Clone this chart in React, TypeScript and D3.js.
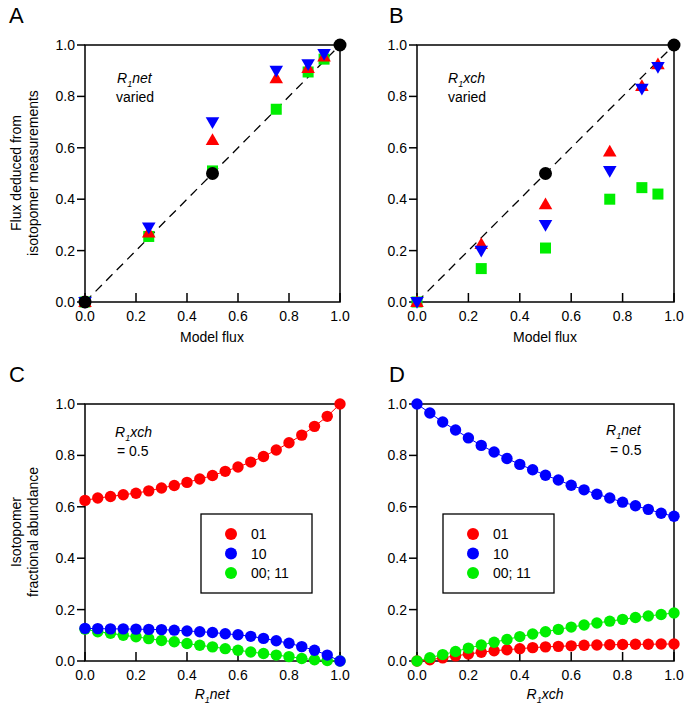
import React from "react";
import * as d3 from "d3";

// ---------- Data ----------
const fluxX = [0, 0.25, 0.5, 0.75, 0.875, 0.9375];
const blackX = [0, 0.5, 1];
const blackYA = [0, 0.5, 1];
const blackXB = [0.5, 1];
const blackYB = [0.5, 1];

const aRed = [0, 0.27, 0.63, 0.87, 0.91, 0.955];
const aBlue = [0, 0.29, 0.70, 0.90, 0.925, 0.965];
const aGreen = [0, 0.255, 0.51, 0.75, 0.895, 0.945];

const bRed = [0, 0.225, 0.38, 0.585, 0.84, 0.925];
const bBlue = [0, 0.20, 0.30, 0.51, 0.83, 0.915];
const bGreen = [0, 0.13, 0.21, 0.40, 0.445, 0.42];

const rX = [0, 0.05, 0.1, 0.15, 0.2, 0.25, 0.3, 0.35, 0.4, 0.45, 0.5, 0.55, 0.6, 0.65, 0.7, 0.75, 0.8, 0.85, 0.9, 0.95, 1.0];

const c01 = [0.625, 0.634, 0.640, 0.647, 0.653, 0.662, 0.673, 0.683, 0.695, 0.708, 0.722, 0.738, 0.755, 0.774, 0.796, 0.821, 0.849, 0.879, 0.913, 0.952, 1.0];
const c10 = [0.127, 0.126, 0.125, 0.125, 0.124, 0.123, 0.122, 0.120, 0.117, 0.114, 0.111, 0.106, 0.102, 0.096, 0.088, 0.079, 0.069, 0.056, 0.042, 0.023, 0.0];
const c00 = [0.124, 0.114, 0.108, 0.100, 0.094, 0.087, 0.080, 0.075, 0.068, 0.061, 0.055, 0.048, 0.042, 0.035, 0.029, 0.023, 0.017, 0.010, 0.005, 0.002, 0.0];

const d01 = [0, 0.005, 0.012, 0.020, 0.027, 0.034, 0.040, 0.044, 0.048, 0.052, 0.055, 0.057, 0.059, 0.061, 0.062, 0.063, 0.064, 0.065, 0.065, 0.066, 0.066];
const d10 = [1.0, 0.965, 0.930, 0.899, 0.868, 0.839, 0.813, 0.788, 0.765, 0.744, 0.723, 0.704, 0.684, 0.666, 0.649, 0.634, 0.618, 0.604, 0.590, 0.575, 0.563];
const d00 = [0, 0.013, 0.025, 0.037, 0.050, 0.062, 0.073, 0.084, 0.095, 0.105, 0.114, 0.123, 0.132, 0.140, 0.148, 0.155, 0.162, 0.169, 0.175, 0.181, 0.187];

const ticks = [0, 0.2, 0.4, 0.6, 0.8, 1.0];
const legendLabels = ["01", "10", "00; 11"];

const RED = "#ff0000";
const BLUE = "#0000ff";
const GREEN = "#00ee00";
const FONT = "'Liberation Sans', Arial, sans-serif";

type Box = { x0: number; x1: number; y0: number; y1: number };

function Axes({ box }: { box: Box }) {
  const x = d3.scaleLinear().domain([0, 1]).range([box.x0, box.x1]);
  const y = d3.scaleLinear().domain([0, 1]).range([box.y1, box.y0]);
  return (
    <g>
      <rect x={box.x0} y={box.y0} width={box.x1 - box.x0} height={box.y1 - box.y0} fill="none" stroke="#000" strokeWidth={1.5} />
      {ticks.map((t) => (
        <g key={"y" + t}>
          <line x1={box.x0 - 8} x2={box.x0} y1={y(t)} y2={y(t)} stroke="#000" strokeWidth={1.5} />
          <text x={box.x0 - 10} y={y(t) + 5} textAnchor="end" fontSize={14} fontFamily={FONT}>{t.toFixed(1)}</text>
        </g>
      ))}
      {ticks.map((t) => (
        <g key={"x" + t}>
          <line x1={x(t)} x2={x(t)} y1={box.y1} y2={box.y1 - 9} stroke="#000" strokeWidth={1.5} />
          <text x={x(t)} y={box.y1 + 19} textAnchor="middle" fontSize={14} fontFamily={FONT}>{t.toFixed(1)}</text>
        </g>
      ))}
    </g>
  );
}

function RSub({ x, y, sub, anchor = "start" }: { x: number; y: number; sub: string; anchor?: string }) {
  return (
    <text x={x} y={y} fontSize={14} fontFamily={FONT} fontStyle="italic" textAnchor={anchor as any}>
      R<tspan fontSize={9} dy={4}>1</tspan><tspan dy={-4}>{sub}</tspan>
    </text>
  );
}

function FluxPanel({ box, red, blue, green, bx, by }: { box: Box; red: number[]; blue: number[]; green: number[]; bx: number[]; by: number[] }) {
  const x = d3.scaleLinear().domain([0, 1]).range([box.x0, box.x1]);
  const y = d3.scaleLinear().domain([0, 1]).range([box.y1, box.y0]);
  const tri = d3.symbol().type(d3.symbolTriangle).size(80)() as string;
  return (
    <g>
      <line x1={x(0)} y1={y(0)} x2={x(1)} y2={y(1)} stroke="#000" strokeWidth={1.3} strokeDasharray="9,6" />
      <Axes box={box} />
      {fluxX.map((v, i) => (
        <rect key={"g" + i} x={x(v) - 5.5} y={y(green[i]) - 5.5} width={11} height={11} fill={GREEN} />
      ))}
      {fluxX.map((v, i) => (
        <path key={"r" + i} d={tri} transform={`translate(${x(v)},${y(red[i]) + 1})`} fill={RED} />
      ))}
      {fluxX.map((v, i) => (
        <path key={"b" + i} d={tri} transform={`translate(${x(v)},${y(blue[i]) - 1}) rotate(180)`} fill={BLUE} />
      ))}
      {bx.map((v, i) => (
        <circle key={"k" + i} cx={x(v)} cy={y(by[i])} r={6.5} fill="#000" />
      ))}
    </g>
  );
}

function CurvePanel({ box, s01, s10, s00 }: { box: Box; s01: number[]; s10: number[]; s00: number[] }) {
  const x = d3.scaleLinear().domain([0, 1]).range([box.x0, box.x1]);
  const y = d3.scaleLinear().domain([0, 1]).range([box.y1, box.y0]);
  const line = d3.line<number>().x((_, i) => x(rX[i])).y((d) => y(d));
  const series: [number[], string][] = [[s01, RED], [s00, GREEN], [s10, BLUE]];
  return (
    <g>
      <Axes box={box} />
      {series.map(([s, c], k) => (
        <g key={k}>
          <path d={line(s) as string} fill="none" stroke={c} strokeWidth={1} />
          {s.map((v, i) => (
            <circle key={i} cx={x(rX[i])} cy={y(v)} r={5.7} fill={c} />
          ))}
        </g>
      ))}
    </g>
  );
}

function Legend({ x0, y0 }: { x0: number; y0: number }) {
  const cols = [RED, BLUE, GREEN];
  return (
    <g>
      <rect x={x0} y={y0} width={111} height={79} fill="#fff" stroke="#000" strokeWidth={1.3} />
      {legendLabels.map((l, i) => (
        <g key={l}>
          <circle cx={x0 + 30} cy={y0 + 20 + i * 19.5} r={6} fill={cols[i]} />
          <text x={x0 + 50} y={y0 + 25 + i * 19.5} fontSize={14} fontFamily={FONT}>{l}</text>
        </g>
      ))}
    </g>
  );
}

export default function App() {
  const A: Box = { x0: 85, x1: 340, y0: 45, y1: 302 };
  const B: Box = { x0: 417, x1: 674, y0: 45, y1: 302 };
  const C: Box = { x0: 85, x1: 340, y0: 404, y1: 661 };
  const D: Box = { x0: 417, x1: 674, y0: 404, y1: 661 };
  return (
    <svg width={688} height={714} style={{ position: "absolute", left: 0, top: 0, background: "#fff" }}>
      <rect width={688} height={714} fill="#fff" />
      {/* Panel letters */}
      <text x={9} y={23} fontSize={22} fontFamily={FONT}>A</text>
      <text x={389} y={23} fontSize={22} fontFamily={FONT}>B</text>
      <text x={9} y={382} fontSize={22} fontFamily={FONT}>C</text>
      <text x={389} y={382} fontSize={22} fontFamily={FONT}>D</text>

      <FluxPanel box={A} red={aRed} blue={aBlue} green={aGreen} bx={blackX} by={blackYA} />
      <FluxPanel box={B} red={bRed} blue={bBlue} green={bGreen} bx={blackXB} by={blackYB} />
      <CurvePanel box={C} s01={c01} s10={c10} s00={c00} />
      <CurvePanel box={D} s01={d01} s10={d10} s00={d00} />
      <Legend x0={201} y0={514} />
      <Legend x0={443} y0={514} />

      {/* annotations */}
      <RSub x={117} y={83} sub="net" />
      <text x={116} y={102} fontSize={14} fontFamily={FONT}>varied</text>
      <RSub x={448} y={83} sub="xch" />
      <text x={448} y={102} fontSize={14} fontFamily={FONT}>varied</text>
      <RSub x={115} y={437} sub="xch" />
      <text x={117} y={456} fontSize={14} fontFamily={FONT}>= 0.5</text>
      <RSub x={606} y={435} sub="net" />
      <text x={610} y={455} fontSize={14} fontFamily={FONT}>= 0.5</text>

      {/* axis titles */}
      <text x={212} y={342} textAnchor="middle" fontSize={14} fontFamily={FONT}>Model flux</text>
      <text x={545} y={342} textAnchor="middle" fontSize={14} fontFamily={FONT}>Model flux</text>
      <RSub x={212} y={699} sub="net" anchor="middle" />
      <RSub x={545} y={699} sub="xch" anchor="middle" />
      <g transform="translate(21,173) rotate(-90)">
        <text textAnchor="middle" fontSize={14} fontFamily={FONT}>Flux deduced from</text>
        <text y={17} textAnchor="middle" fontSize={14} fontFamily={FONT}>isotopomer measurements</text>
      </g>
      <g transform="translate(21,532) rotate(-90)">
        <text textAnchor="middle" fontSize={14} fontFamily={FONT}>Isotopomer</text>
        <text y={17} textAnchor="middle" fontSize={14} fontFamily={FONT}>fractional abundance</text>
      </g>
    </svg>
  );
}
